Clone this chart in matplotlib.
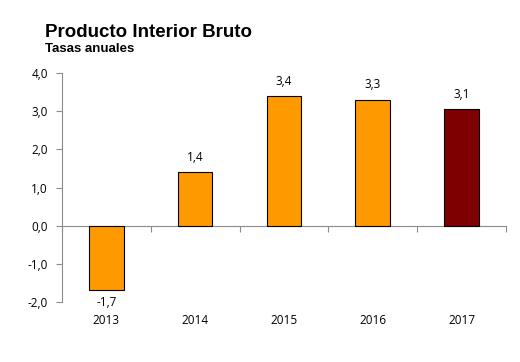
import matplotlib
matplotlib.use("Agg")
import matplotlib.pyplot as plt
import matplotlib.transforms as mtransforms

years = ["2013", "2014", "2015", "2016", "2017"]
values = [-1.7, 1.4, 3.4, 3.3, 3.05]
labels = ["-1,7", "1,4", "3,4", "3,3", "3,1"]
colors = ["#FF9900", "#FF9900", "#FF9900", "#FF9900", "#7F0000"]
yticks = [-2.0, -1.0, 0.0, 1.0, 2.0, 3.0, 4.0]

fig = plt.figure(figsize=(5.2, 3.62), dpi=100)
ax = fig.add_axes([0.119, 0.166, 0.854, 0.632])

x = list(range(len(years)))
ax.bar(x, values, width=0.39, color=colors, edgecolor="black", linewidth=0.8, zorder=3)

ax.set_xlim(-0.5, len(years) - 0.5)
ax.set_ylim(-2.0, 4.0)
ax.set_yticks(yticks)
ax.set_yticklabels([f"{v:.1f}".replace(".", ",") for v in yticks], fontsize=8.5, family="Open Sans")

for s in ["top", "right"]:
    ax.spines[s].set_visible(False)
ax.spines["left"].set_color("#8c8c8c")
ax.spines["bottom"].set_color("#8c8c8c")
ax.spines["bottom"].set_position(("data", 0))
ax.tick_params(axis="y", length=4, color="#8c8c8c", pad=6)

ax.set_xticks([i - 0.5 for i in range(len(years) + 1)])
ax.set_xticklabels([])
ax.tick_params(axis="x", length=4, color="#8c8c8c", direction="out")

trans = mtransforms.blended_transform_factory(ax.transData, ax.transAxes)
for i, y in enumerate(years):
    ax.text(i, -0.055, y, transform=trans, ha="center", va="top", fontsize=8.5, family="Open Sans")

for i, (v, lab) in enumerate(zip(values, labels)):
    if v >= 0:
        ax.annotate(lab, (i, v), xytext=(0, 6), textcoords="offset points",
                    ha="center", va="bottom", fontsize=8.5, family="Open Sans")
    else:
        ax.annotate(lab, (i, v), xytext=(0, -4), textcoords="offset points",
                    ha="center", va="top", fontsize=8.5, family="Open Sans")

fig.text(0.087, 0.898, "Producto Interior Bruto", fontsize=13.5, fontweight="bold",
         family="Liberation Sans", ha="left", va="baseline")
fig.text(0.087, 0.855, "Tasas anuales", fontsize=9.5, fontweight="bold",
         family="Liberation Sans", ha="left", va="baseline")

fig.savefig("out.png", dpi=100)
